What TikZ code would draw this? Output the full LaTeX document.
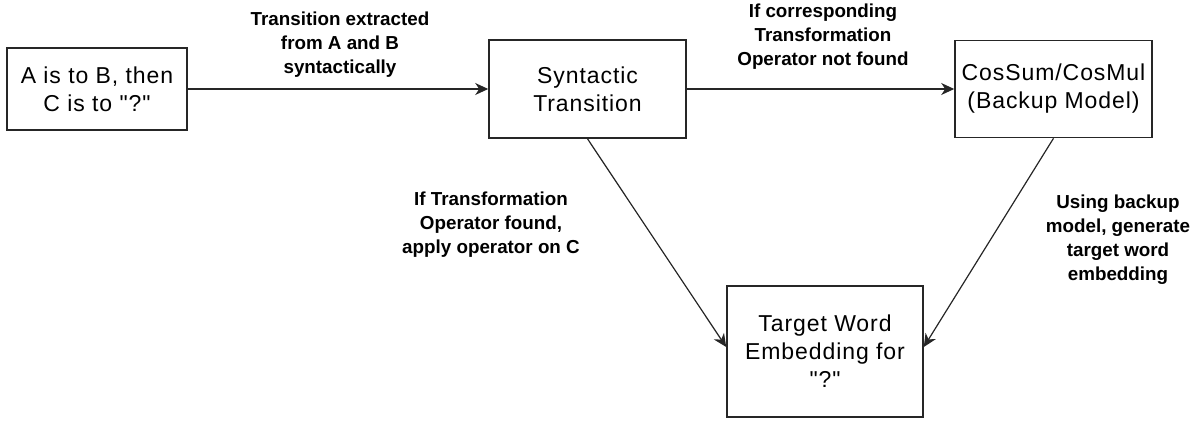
\documentclass[tikz,border=0pt]{standalone}
\usepackage{fontspec}
\setmainfont{Liberation Sans}
\newfontfamily\boxfont[LetterSpace=4]{Liberation Sans}
\newcommand{\dq}{\symbol{34}}
\usetikzlibrary{arrows.meta,calc}
\begin{document}
\begin{tikzpicture}[x=1pt,y=-1pt,
  boxnode/.style={draw=black!85,line width=1.6pt,inner sep=0pt,align=center,
    font=\boxfont\fontsize{23}{28}\selectfont},
  lbl/.style={align=center,inner sep=0pt,font=\bfseries\fontsize{18.8}{24}\selectfont},
  conn/.style={draw=black!85,line width=1.2pt,-{Stealth[length=13pt,width=12pt,inset=4pt]}}]
\useasboundingbox (0,0) rectangle (1202,423);
\node[boxnode,minimum width=180pt,minimum height=82pt] (a) at (97,89) {A is to B, then\\C is to \dq?\dq};
\node[boxnode,minimum width=197pt,minimum height=98pt] (syn) at (587.5,89) {Syntactic\\Transition};
\node[boxnode,minimum width=197pt,minimum height=97pt] (cos) at (1053.5,89) {CosSum/CosMul\\(Backup Model)};
\node[boxnode,minimum width=196pt,minimum height=131pt] (tgt) at (825,351.5) {Target Word\\Embedding for\\\dq?\dq};
\coordinate (tl) at ([yshift=4.5pt]tgt.west);
\coordinate (tr) at ([yshift=4.5pt]tgt.east);
\draw[conn] (a.east) -- (syn.west);
\draw[conn] (syn.east) -- (cos.west);
\draw[conn] (syn.south) -- (tl);
\draw[conn] (cos.south) -- (tr);
\node[lbl] (l1) at (340,45) {Transition extracted\\from A and B\\syntactically};
\node[lbl] (l2) at (823,37) {If corresponding\\Transformation\\Operator not found};
\node[lbl] (l3) at (491,225) {If Transformation\\Operator found,\\apply operator on C};
\node[lbl] (l4) at (1118,240) {Using backup\\model, generate\\target word\\embedding};
\end{tikzpicture}
\end{document}
